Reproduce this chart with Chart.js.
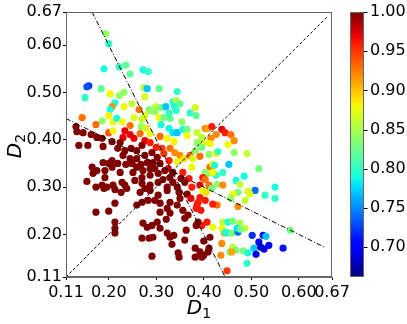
<!DOCTYPE html>
<html>
<head>
<meta charset="utf-8">
<script src="https://cdn.jsdelivr.net/npm/chart.js@4.4.0/dist/chart.umd.min.js"></script>
<style>
  html, body { margin: 0; padding: 0; background: #fff; }
</style>
</head>
<body>
<canvas id="chartCanvas" width="407" height="324"></canvas>
<script>
// axis ticks (both axes share them) and colour bar ticks
const axisTicks = [0.11, 0.20, 0.30, 0.40, 0.50, 0.60, 0.67];
const cbarTicks = [0.70, 0.75, 0.80, 0.85, 0.90, 0.95, 1.00];
const cbarRange = [0.662, 1.00];

// split lines: D1 = D2, D3 = D1 (D2 = 1 - 2 D1), D3 = D2 (D1 = 1 - 2 D2)
const diagX = [0.11, 0.66];
const diagY = [0.11, 0.66];
const cutAX = [0.165, 0.445];
const cutAY = [0.67, 0.11];
const cutBX = [0.11, 0.655];
const cutBY = [0.445, 0.1725];

// scatter points
const d1 = [
  0.194,0.200,0.190,0.222,0.236,0.245,0.272,0.283,0.158,0.154,0.184,0.150,0.203,0.222,0.232,0.274,0.281,0.306,0.276,0.344,
  0.213,0.249,0.207,0.203,0.232,0.264,0.285,0.299,0.310,0.320,0.335,0.342,0.339,0.350,0.382,0.144,0.173,0.186,0.200,0.209,
  0.217,0.200,0.209,0.228,0.245,0.253,0.270,0.268,0.276,0.278,0.287,0.297,0.306,0.316,0.329,0.327,0.342,0.354,0.371,0.384,
  0.310,0.327,0.335,0.344,0.356,0.365,0.266,0.287,0.308,0.323,0.337,0.365,
  0.234,0.245,0.230,0.253,0.276,0.287,0.300,0.312,0.316,0.329,0.339,0.350,0.358,0.371,0.377,0.382,0.327,0.344,0.325,0.356,0.375,
  0.403,0.409,0.417,0.438,0.445,0.457,0.464,0.451,0.426,0.415,0.413,0.386,0.396,0.400,0.386,0.396,0.392,0.411,0.426,0.430,
  0.464,0.491,0.453,0.516,0.413,0.419,0.423,0.403,0.409,0.426,0.440,0.419,0.398,0.403,0.485,0.468,0.476,0.428,0.440,0.411,
  0.392,0.508,0.550,
  0.398,0.405,0.417,0.472,0.461,0.457,0.487,0.493,0.497,0.529,0.550,0.428,0.419,0.472,
  0.392,0.388,0.384,0.394,0.403,0.407,0.396,0.388,0.384,0.413,0.400,0.411,0.409,0.400,0.396,0.392,0.449,0.436,0.438,0.419,
  0.438,0.443,0.440,0.451,0.445,0.451,0.459,0.461,0.476,0.472,0.470,0.487,0.478,0.461,0.468,0.455,0.459,0.483,0.493,0.491,
  0.502,0.506,0.510,0.516,0.525,0.531,0.520,0.527,0.537,0.567,0.582,
  0.131,0.133,0.146,0.137,0.156,0.163,0.175,0.186,0.188,0.207,0.224,0.219,0.234,0.247,0.259,0.270,0.230,0.245,0.259,0.276,
  0.291,0.302,0.308,0.293,0.281,0.268,0.249,0.236,0.219,0.207,0.188,0.200,0.165,0.175,0.167,0.154,0.173,0.192,0.207,0.192,
  0.186,0.209,0.228,0.234,0.224,0.251,0.259,0.272,0.287,0.297,0.304,0.287,0.270,0.255,0.270,0.287,0.304,0.314,0.329,0.335,
  0.323,0.344,0.335,0.318,0.190,0.196,0.213,0.226,0.213,0.200,0.173,0.213,0.213,0.213,0.238,0.266,0.276,0.287,0.259,0.270,
  0.283,0.297,0.304,0.323,0.308,0.329,0.344,0.323,0.308,0.329,0.350,0.356,0.367,0.360,0.272,0.281,0.291,0.302,0.308,0.321,
  0.270,0.285,0.293,0.323,0.329,0.337,0.333,0.363,0.360,0.291,0.346,0.348,0.382,0.382,
  0.375,0.386,0.369,0.360,0.352,0.365,0.373,0.348
];
const d2 = [
  0.624,0.603,0.550,0.554,0.558,0.539,0.548,0.544,0.514,0.512,0.508,0.489,0.497,0.493,0.500,0.510,0.508,0.508,0.491,0.502,
  0.478,0.476,0.470,0.464,0.470,0.464,0.464,0.470,0.468,0.470,0.480,0.483,0.470,0.476,0.468,0.447,0.432,0.440,0.451,0.438,
  0.445,0.415,0.419,0.438,0.430,0.447,0.443,0.428,0.451,0.424,0.462,0.459,0.447,0.447,0.445,0.457,0.462,0.438,0.457,0.451,
  0.432,0.424,0.415,0.415,0.422,0.422,0.413,0.413,0.407,0.403,0.396,0.409,
  0.419,0.411,0.405,0.403,0.398,0.394,0.384,0.382,0.371,0.382,0.373,0.367,0.360,0.367,0.360,0.377,0.356,0.354,0.339,0.331,0.342,
  0.424,0.424,0.428,0.422,0.415,0.411,0.398,0.390,0.411,0.403,0.392,0.415,0.405,0.394,0.394,0.384,0.365,0.369,0.371,0.375,
  0.373,0.371,0.348,0.339,0.342,0.348,0.346,0.331,0.329,0.325,0.331,0.331,0.320,0.316,0.323,0.314,0.306,0.306,0.304,0.304,
  0.304,0.293,0.300,
  0.293,0.289,0.297,0.289,0.285,0.276,0.272,0.291,0.285,0.283,0.276,0.262,0.264,0.259,
  0.278,0.268,0.255,0.251,0.272,0.226,0.219,0.226,0.219,0.194,0.186,0.171,0.163,0.156,0.152,0.163,0.123,0.156,0.181,0.215,
  0.213,0.203,0.226,0.226,0.205,0.203,0.203,0.228,0.224,0.205,0.213,0.213,0.211,0.173,0.167,0.163,0.163,0.165,0.161,0.139,
  0.198,0.171,0.158,0.184,0.198,0.196,0.173,0.169,0.177,0.171,0.209,
  0.428,0.417,0.415,0.388,0.388,0.411,0.405,0.403,0.386,0.396,0.394,0.382,0.377,0.382,0.377,0.388,0.367,0.360,0.360,0.367,
  0.373,0.363,0.350,0.352,0.352,0.348,0.350,0.348,0.350,0.356,0.352,0.350,0.342,0.335,0.329,0.312,0.300,0.335,0.342,0.320,
  0.304,0.304,0.310,0.304,0.331,0.331,0.342,0.335,0.339,0.339,0.329,0.325,0.320,0.314,0.308,0.304,0.310,0.316,0.320,0.310,
  0.300,0.300,0.331,0.335,0.297,0.300,0.295,0.289,0.266,0.249,0.247,0.226,0.213,0.203,0.297,0.289,0.297,0.293,0.262,0.268,
  0.272,0.272,0.283,0.293,0.266,0.268,0.262,0.255,0.247,0.245,0.276,0.251,0.241,0.234,0.224,0.215,0.219,0.226,0.213,0.232,
  0.192,0.192,0.194,0.203,0.194,0.198,0.179,0.209,0.188,0.154,0.161,0.152,0.171,0.152,
  0.300,0.262,0.318,0.310,0.318,0.285,0.276,0.289
];
const score = [
  0.84,0.80,0.79,0.80,0.82,0.82,0.79,0.80,0.72,0.73,0.82,0.80,0.88,0.84,0.84,0.85,0.77,0.82,0.87,0.80,
  0.79,0.86,0.92,0.79,0.88,0.93,0.83,0.86,0.83,0.77,0.80,0.85,0.79,0.82,0.87,0.93,0.93,0.84,0.88,0.88,
  0.79,0.94,0.88,0.88,0.93,0.87,0.86,0.84,0.87,0.87,0.84,0.84,0.88,0.83,0.82,0.80,0.80,0.84,0.80,0.82,
  0.79,0.79,0.78,0.77,0.79,0.83,0.93,0.88,0.93,0.88,0.88,0.88,
  0.97,0.97,0.97,0.97,0.97,0.96,0.96,0.95,0.95,0.93,0.92,0.92,0.89,0.93,0.87,0.84,0.96,0.88,0.97,0.96,0.88,
  0.92,0.91,0.96,0.97,0.96,0.93,0.92,0.88,0.92,0.92,0.88,0.86,0.86,0.87,0.84,0.83,0.93,0.84,0.88,0.80,
  0.84,0.86,0.77,0.83,0.93,0.88,0.79,0.84,0.84,0.80,0.80,0.88,0.96,0.93,0.79,0.79,0.86,0.84,0.92,0.93,
  0.97,0.74,0.79,
  0.88,0.89,0.83,0.83,0.88,0.84,0.86,0.87,0.87,0.80,0.80,0.93,0.96,0.92,
  0.96,0.96,0.96,0.96,0.96,0.96,0.96,1.00,1.00,1.00,1.00,1.00,1.00,1.00,1.00,1.00,0.95,0.92,0.92,0.88,
  0.88,0.91,0.86,0.79,0.80,0.79,0.83,0.83,0.85,0.74,0.78,0.86,0.83,0.86,0.83,0.83,0.91,0.83,0.79,0.80,
  0.72,0.77,0.70,0.70,0.71,0.77,0.68,0.69,0.70,0.71,0.83,
  1.00,1.00,1.00,1.00,1.00,1.00,1.00,1.00,1.00,1.00,1.00,1.00,1.00,1.00,1.00,1.00,1.00,1.00,1.00,1.00,
  1.00,1.00,1.00,1.00,1.00,1.00,1.00,1.00,1.00,1.00,1.00,1.00,1.00,1.00,1.00,1.00,1.00,1.00,1.00,1.00,
  1.00,1.00,1.00,1.00,1.00,1.00,1.00,1.00,1.00,1.00,1.00,1.00,1.00,1.00,1.00,1.00,1.00,1.00,1.00,1.00,
  1.00,1.00,1.00,1.00,1.00,1.00,1.00,1.00,1.00,1.00,1.00,1.00,1.00,1.00,1.00,1.00,1.00,1.00,1.00,1.00,
  1.00,1.00,1.00,1.00,1.00,1.00,1.00,1.00,1.00,1.00,1.00,1.00,1.00,1.00,1.00,1.00,1.00,1.00,1.00,1.00,
  1.00,1.00,1.00,1.00,1.00,1.00,1.00,1.00,1.00,1.00,1.00,1.00,1.00,1.00,
  0.96,0.96,0.96,1.00,1.00,1.00,0.97,1.00
];

// matplotlib "jet"
function jet(t) {
  t = Math.min(1, Math.max(0, t));
  const seg = (pts) => {
    for (let i = 1; i < pts.length; i++) {
      if (t <= pts[i][0]) {
        const [x0, y0] = pts[i - 1], [x1, y1] = pts[i];
        return y0 + (y1 - y0) * (t - x0) / (x1 - x0);
      }
    }
    return pts[pts.length - 1][1];
  };
  const r = seg([[0, 0], [0.35, 0], [0.66, 1], [0.89, 1], [1, 0.5]]);
  const g = seg([[0, 0], [0.125, 0], [0.375, 1], [0.64, 1], [0.91, 0], [1, 0]]);
  const b = seg([[0, 0.5], [0.11, 1], [0.34, 1], [0.65, 0], [1, 0]]);
  return `rgb(${Math.round(r * 255)},${Math.round(g * 255)},${Math.round(b * 255)})`;
}
const norm = (v) => (v - cbarRange[0]) / (cbarRange[1] - cbarRange[0]);

const tickFont = { family: "DejaVu Sans", size: 16 };
const spine = "#666";

const points = d1.map((x, i) => ({ x: x, y: d2[i] }));
const toXY = (xs, ys) => xs.map((x, i) => ({ x: x, y: ys[i] }));

const lineSet = (xs, ys, dash) => ({
  data: toXY(xs, ys),
  showLine: true,
  borderColor: "#000",
  borderWidth: 1,
  borderDash: dash,
  pointRadius: 0,
  order: 0
});

// frame, colour bar and axis titles
const extras = {
  id: "extras",
  afterDraw(chart) {
    const { ctx, chartArea: a, scales } = chart;
    const cb = scales.cbar;
    ctx.save();
    ctx.strokeStyle = spine;
    ctx.lineWidth = 1;
    ctx.strokeRect(a.left + 0.5, a.top + 0.5, a.right - a.left - 1, a.bottom - a.top - 1);

    const cx = 350, cw = 14;
    const yTop = cb.getPixelForValue(cbarRange[1]);
    const yBot = cb.getPixelForValue(cbarRange[0]);
    const grad = ctx.createLinearGradient(0, yBot, 0, yTop);
    for (let i = 0; i <= 40; i++) grad.addColorStop(i / 40, jet(i / 40));
    ctx.fillStyle = grad;
    ctx.fillRect(cx, yTop, cw, yBot - yTop);
    ctx.strokeStyle = spine;
    ctx.strokeRect(cx + 0.5, yTop + 0.5, cw - 1, yBot - yTop - 1);
    ctx.strokeStyle = "#000";
    cbarTicks.forEach((v) => {
      const y = Math.round(cb.getPixelForValue(v)) + 0.5;
      ctx.beginPath();
      ctx.moveTo(cx + cw, y);
      ctx.lineTo(cx + cw + 3.5, y);
      ctx.stroke();
    });

    // D_1 and D_2
    ctx.fillStyle = "#000";
    ctx.textBaseline = "alphabetic";
    const drawSub = (main, sub) => {
      ctx.font = "italic 20px 'DejaVu Sans'";
      const w1 = ctx.measureText(main).width;
      ctx.font = "14px 'DejaVu Sans'";
      const w2 = ctx.measureText(sub).width;
      const x0 = -(w1 + w2) / 2;
      ctx.font = "italic 20px 'DejaVu Sans'";
      ctx.fillText(main, x0, 0);
      ctx.font = "14px 'DejaVu Sans'";
      ctx.fillText(sub, x0 + w1, 4);
    };
    ctx.save();
    ctx.translate((a.left + a.right) / 2, 314);
    drawSub("D", "1");
    ctx.restore();
    ctx.save();
    ctx.translate(21, 146);
    ctx.rotate(-Math.PI / 2);
    drawSub("D", "2");
    ctx.restore();
    ctx.restore();
  }
};

const axisCommon = {
  type: "linear",
  min: axisTicks[0],
  max: axisTicks[axisTicks.length - 1],
  afterBuildTicks: (s) => { s.ticks = axisTicks.map((v) => ({ value: v })); },
  ticks: { font: tickFont, color: "#000", autoSkip: false, maxRotation: 0, callback: (v) => v.toFixed(2) },
  grid: { drawOnChartArea: false, drawTicks: true, tickLength: 3, color: "#000" },
  border: { color: spine, width: 1 }
};

new Chart(document.getElementById("chartCanvas"), {
  type: "scatter",
  data: {
    datasets: [
      lineSet(diagX, diagY, [3, 2]),
      lineSet(cutAX, cutAY, [5, 2, 1, 2]),
      lineSet(cutBX, cutBY, [5, 2, 1, 2]),
      {
        data: points,
        pointRadius: 3.6,
        pointBorderWidth: 0,
        pointBackgroundColor: score.map((s) => jet(norm(s))),
        order: 1
      }
    ]
  },
  options: {
    responsive: false,
    animation: false,
    events: [],
    layout: { padding: { top: 12, left: 0, right: 0, bottom: 0 } },
    plugins: { legend: { display: false }, tooltip: { enabled: false } },
    scales: {
      x: Object.assign({}, axisCommon, {
        position: "bottom",
        ticks: Object.assign({}, axisCommon.ticks, { padding: 3 }),
        afterFit: (s) => { s.height = 47; s.paddingLeft = 0; s.paddingRight = 0; }
      }),
      y: Object.assign({}, axisCommon, {
        position: "left",
        ticks: Object.assign({}, axisCommon.ticks, { padding: 1 }),
        afterFit: (s) => { s.width = 66; s.paddingTop = 0; s.paddingBottom = 0; }
      }),
      cbar: {
        type: "linear",
        position: "right",
        min: cbarRange[0],
        max: cbarRange[1],
        afterBuildTicks: (s) => { s.ticks = cbarTicks.map((v) => ({ value: v })); },
        ticks: { font: tickFont, color: "#000", padding: 38, callback: (v) => v.toFixed(2) },
        grid: { display: false, drawTicks: false },
        border: { display: false },
        afterFit: (s) => { s.width = 75; s.paddingTop = 0; s.paddingBottom = 0; }
      }
    }
  },
  plugins: [extras]
});
</script>
</body>
</html>
